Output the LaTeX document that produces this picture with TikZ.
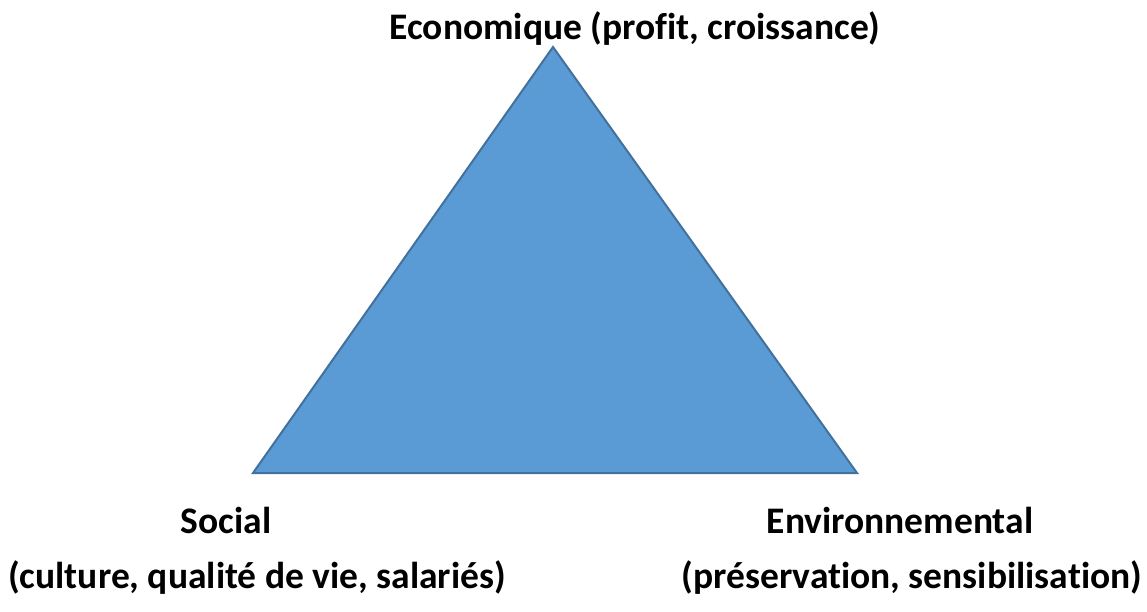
\documentclass[tikz,border=0pt]{standalone}
\usepackage{fontspec}
\setmainfont[Ligatures=CommonOff]{Carlito}
\usepackage{tikz}
\definecolor{fillblue}{HTML}{5B9BD5}
\definecolor{lineblue}{HTML}{41719C}

\begin{document}
\begin{tikzpicture}[x=1pt,y=-1pt]
      \tikzstyle{every node}=[font=\fontsize{37.5}{44}\selectfont\bfseries,
			      inner sep=0pt,anchor=base]
      \useasboundingbox (0,0) rectangle (1147,612);
      \coordinate (eco) at (553,47);
      \coordinate (soc) at (253,473);
      \coordinate (env) at (857,473);
      \draw[lineblue,fill=fillblue,line width=2pt,line join=miter] (eco) -- (env) -- (soc) -- cycle;
      \node (ecolabel) at (635,40) {Economique (profit, croissance)};
      \node (soclabel) at (226,533) {Social};
      \node (socdetail) at (257,588) {(culture, qualité de vie, salariés)};
      \node (envlabel) at (900,533) {Environnemental};
      \node (envdetail) at (912,588) {(préservation, sensibilisation)};
  \end{tikzpicture}
\end{document}
